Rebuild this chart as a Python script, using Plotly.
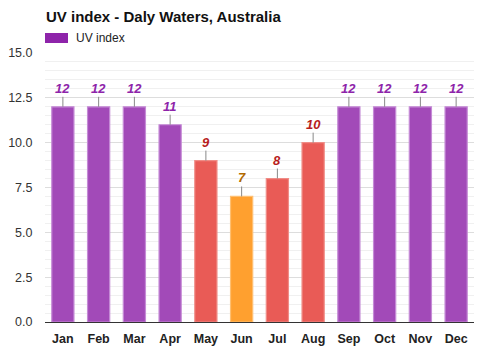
import plotly.graph_objects as go

months = ["Jan", "Feb", "Mar", "Apr", "May", "Jun", "Jul", "Aug", "Sep", "Oct", "Nov", "Dec"]
uv = [12, 12, 12, 11, 9, 7, 8, 10, 12, 12, 12, 12]

def style(v):
    # fill, border, label colour
    if v >= 11:
        return "#a24ab8", "#c58bd6", "#8e24aa"
    if v >= 8:
        return "#e95b56", "#f08c86", "#b71c1c"
    if v >= 6:
        return "#ffa02f", "#ffbf70", "#b26a00"
    return "#7cb342", "#a5d07a", "#33691e"

fills = [style(v)[0] for v in uv]
borders = [style(v)[1] for v in uv]
labcols = [style(v)[2] for v in uv]

FONT = "Liberation Sans, Arial, sans-serif"

fig = go.Figure()
fig.add_trace(go.Bar(
    x=months, y=uv,
    marker=dict(color=fills, line=dict(color=borders, width=1.2)),
    showlegend=False, hoverinfo="x+y",
))

for m, v, c in zip(months, uv, labcols):
    fig.add_annotation(
        x=m, y=v, text=f"<b><i>{v}</i></b>", showarrow=True,
        ax=0, ay=-10, arrowhead=0, arrowwidth=1, arrowcolor="#888888",
        standoff=0, font=dict(size=13, color=c, family=FONT),
        yanchor="bottom", borderpad=0,
    )

# title
fig.add_annotation(xref="paper", yref="paper", x=0, xshift=-1, y=1.0, yshift=37,
                   text="<b>UV index - Daly Waters, Australia</b>", showarrow=False,
                   xanchor="left", yanchor="middle",
                   font=dict(size=15, color="#111111", family=FONT))
# legend
fig.add_shape(type="rect", xref="paper", yref="paper",
              xsizemode="pixel", xanchor=0, x0=0, x1=23,
              ysizemode="pixel", yanchor=1, y0=10, y1=20,
              line=dict(width=0), fillcolor="#8e24aa")
fig.add_annotation(xref="paper", yref="paper", x=0, xshift=29, y=1.0, yshift=15,
                   text="UV index", showarrow=False, xanchor="left", yanchor="middle",
                   font=dict(size=12, color="#222222", family=FONT))

fig.update_layout(
    width=500, height=350,
    margin=dict(l=45, r=26, t=53, b=28),
    paper_bgcolor="white", plot_bgcolor="white",
    bargap=0.38,
    font=dict(family=FONT, size=12, color="#333333"),
    showlegend=False,
    xaxis=dict(showgrid=False, showline=True, linecolor="#333333", linewidth=1,
               ticks="outside", ticklen=5, tickcolor="rgba(0,0,0,0)", automargin=False,
               tickfont=dict(size=12.5, color="#222222", family=FONT),
               tickprefix="<b>", ticksuffix="</b>", fixedrange=True),
    yaxis=dict(range=[0, 15], dtick=2.5, tickformat=".1f", showgrid=True,
               gridcolor="#dddddd", gridwidth=1, zeroline=False, automargin=False,
               minor=dict(dtick=0.5, showgrid=True, gridcolor="#f0f0f0"),
               ticks="outside", ticklen=9, tickcolor="rgba(0,0,0,0)",
               tickfont=dict(size=12.5, color="#333333", family=FONT), fixedrange=True),
)

fig.write_html("out.html")
